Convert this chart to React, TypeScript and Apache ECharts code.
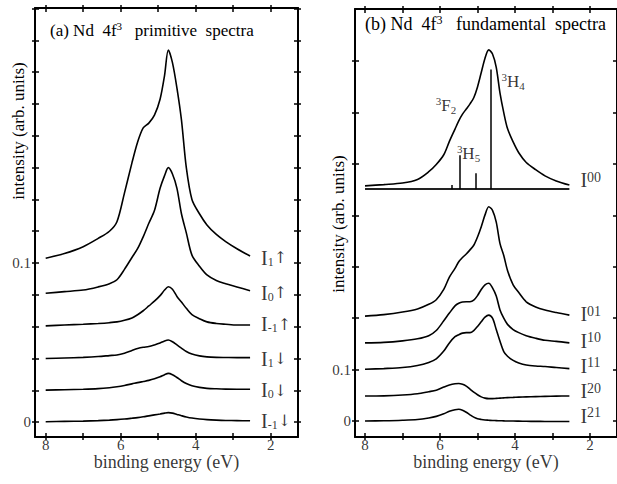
import React, { useEffect, useRef } from 'react';
import * as echarts from 'echarts';

const FONT = 'Liberation Serif, DejaVu Serif, serif';
const ARROWFONT = 'DejaVu Serif, Liberation Serif, serif';

// ---------- Panel (a): primitive spectra ----------
const energyA = [8.0, 7.5, 7.0, 6.6, 6.3, 6.1, 5.9, 5.7, 5.55, 5.4, 5.25, 5.1, 4.95, 4.83, 4.73, 4.62, 4.5, 4.38, 4.25, 4.1, 3.9, 3.7, 3.45, 3.2, 2.9, 2.55];
const aI1Up = [0.103, 0.106, 0.1103, 0.1155, 0.12, 0.126, 0.144, 0.163, 0.176, 0.185, 0.188, 0.193, 0.203, 0.218, 0.234, 0.226, 0.21, 0.19, 0.16, 0.14, 0.131, 0.124, 0.118, 0.1135, 0.109, 0.1044];
const aI0Up = [0.081, 0.082, 0.083, 0.085, 0.087, 0.0895, 0.096, 0.1035, 0.109, 0.1165, 0.125, 0.133, 0.147, 0.155, 0.16, 0.156, 0.147, 0.131, 0.119, 0.105, 0.098, 0.0925, 0.089, 0.087, 0.085, 0.0826];
const aIm1Up = [0.0605, 0.061, 0.0615, 0.062, 0.0625, 0.063, 0.064, 0.0655, 0.0675, 0.07, 0.073, 0.076, 0.0795, 0.083, 0.0851, 0.0835, 0.079, 0.0755, 0.0715, 0.0675, 0.065, 0.063, 0.062, 0.0615, 0.061, 0.061];
const aI1Dn = [0.04, 0.0403, 0.0407, 0.0412, 0.0418, 0.0422, 0.0433, 0.045, 0.0462, 0.047, 0.0475, 0.0485, 0.0497, 0.051, 0.0516, 0.0505, 0.0485, 0.0465, 0.0444, 0.0428, 0.0416, 0.041, 0.0407, 0.0406, 0.0405, 0.0405];
const aI0Dn = [0.0201, 0.0203, 0.0206, 0.021, 0.0216, 0.0222, 0.023, 0.024, 0.0248, 0.0255, 0.0262, 0.0272, 0.0285, 0.0298, 0.0306, 0.0298, 0.028, 0.026, 0.0242, 0.0228, 0.0218, 0.0212, 0.0209, 0.0207, 0.0206, 0.0206];
const aIm1Dn = [0.0002, 0.0004, 0.0006, 0.0009, 0.0012, 0.0015, 0.0019, 0.0024, 0.0028, 0.0033, 0.0039, 0.0045, 0.0051, 0.0056, 0.0059, 0.0056, 0.0048, 0.004, 0.0032, 0.0025, 0.0019, 0.0015, 0.0012, 0.001, 0.0009, 0.0008];
const labelsA = ['{b|I}{s|1}{a|\u2191}', '{b|I}{s|0}{a|\u2191}', '{b|I}{s|-1}{a|\u2191}', '{b|I}{s|1}{a|\u2193}', '{b|I}{s|0}{a|\u2193}', '{b|I}{s|-1}{a|\u2193}'];
const labelOffsetA = [1.5, 2, -1, 1, 1, 0];

// ---------- Panel (b): fundamental spectra ----------
const energyB = [8.0, 7.5, 7.0, 6.6, 6.3, 6.1, 5.9, 5.75, 5.6, 5.5, 5.4, 5.3, 5.2, 5.1, 5.0, 4.9, 4.8, 4.7, 4.6, 4.5, 4.4, 4.3, 4.2, 4.05, 3.9, 3.7, 3.45, 3.2, 2.9, 2.55];
const bI00 = [0.4575, 0.46, 0.463, 0.47, 0.485, 0.499, 0.518, 0.544, 0.568, 0.584, 0.597, 0.607, 0.617, 0.629, 0.65, 0.678, 0.706, 0.722, 0.714, 0.688, 0.638, 0.6, 0.569, 0.543, 0.522, 0.503, 0.489, 0.477, 0.467, 0.459];
const bI01 = [0.204, 0.207, 0.212, 0.218, 0.227, 0.236, 0.256, 0.28, 0.297, 0.31, 0.318, 0.325, 0.333, 0.342, 0.358, 0.378, 0.401, 0.417, 0.41, 0.387, 0.345, 0.322, 0.293, 0.265, 0.25, 0.232, 0.222, 0.216, 0.211, 0.206];
const bI10 = [0.152, 0.153, 0.156, 0.16, 0.166, 0.176, 0.195, 0.21, 0.224, 0.229, 0.2315, 0.232, 0.232, 0.235, 0.244, 0.256, 0.265, 0.268, 0.259, 0.243, 0.216, 0.2, 0.188, 0.178, 0.172, 0.166, 0.161, 0.157, 0.155, 0.152];
const bI11 = [0.1006, 0.102, 0.104, 0.108, 0.114, 0.121, 0.136, 0.152, 0.164, 0.168, 0.171, 0.172, 0.172, 0.176, 0.184, 0.193, 0.202, 0.206, 0.2, 0.178, 0.155, 0.135, 0.126, 0.118, 0.113, 0.109, 0.107, 0.106, 0.104, 0.102];
const bI20 = [0.0486, 0.049, 0.0505, 0.053, 0.057, 0.06, 0.066, 0.07, 0.0725, 0.073, 0.0715, 0.068, 0.062, 0.056, 0.051, 0.047, 0.0445, 0.0435, 0.0435, 0.044, 0.0445, 0.045, 0.0455, 0.046, 0.0465, 0.047, 0.0475, 0.048, 0.0485, 0.0486];
const bI21 = [0.0, 0.0005, 0.0015, 0.003, 0.006, 0.009, 0.014, 0.019, 0.022, 0.0228, 0.021, 0.017, 0.012, 0.0075, 0.0045, 0.003, 0.002, 0.0015, 0.001, 0.0008, 0.0005, 0.0003, 0.0, 0.0, -0.0002, -0.0005, -0.0007, -0.0008, -0.001, -0.001];
const labelsB = ['{b|I}{p|00}', '{b|I}{p|01}', '{b|I}{p|10}', '{b|I}{p|11}', '{b|I}{p|20}', '{b|I}{p|21}'];
const labelOffsetB = [-5, -1, -2, -3, -5, -6];

// stick spectrum under I00
const stickE = [5.69, 5.47, 5.05, 4.66];
const stickTop = [0.459, 0.517, 0.482, 0.684];
const stickBase = 0.451;
const stickBaseFrom = 8.0;
const stickBaseTo = 2.55;
const termE = [5.84, 5.24, 4.05];
const termV = [0.613, 0.521, 0.6605];
const termText = ['{p|3}{b|F}{s|2}', '{p|3}{b|H}{s|5}', '{p|3}{b|H}{s|4}'];

// ticks
const xTicks = [2, 3, 4, 5, 6, 7, 8];
const xLabels = [2, 4, 6, 8];
const yTicksA = [0, 0.02, 0.04, 0.06, 0.08, 0.1, 0.12, 0.14, 0.16, 0.18, 0.2, 0.22, 0.24, 0.26];
const yLabelsA = [0, 0.1];
const yTicksB = [0, 0.1, 0.2, 0.3, 0.4, 0.5, 0.6, 0.7];
const yLabelsB = [0, 0.1];
const xTitle = 'binding energy (eV)';

// axis ranges [min, max]
const xRangeA = [1.272, 8.285];
const yRangeA = [-0.0094, 0.2604];
const xRangeB = [1.28, 8.267];
const yRangeB = [-0.0311, 0.8016];

function frameAxes(gridIndex: number, kind: 'x' | 'y', min: number, max: number, inverse: boolean, ticks: number[]) {
  const positions = kind === 'x' ? ['bottom', 'top'] : ['left', 'right'];
  const out: any[] = [];
  positions.forEach((pos) => {
    [true, false].forEach((inside) => {
      out.push({
        gridIndex,
        type: 'value',
        position: pos,
        min,
        max,
        inverse,
        axisLine: { show: inside, onZero: false, lineStyle: { color: '#000', width: 2 } },
        axisTick: { show: true, inside, length: inside ? 4 : 3, customValues: ticks, lineStyle: { color: '#000', width: 1.5 } },
        axisLabel: { show: false },
        splitLine: { show: false },
      });
    });
  });
  return out;
}

const tickRich = { t: { fontFamily: FONT, fontSize: 15, lineHeight: 14, color: '#000' } };
const nameRich = { t: { fontFamily: FONT, fontSize: 18, lineHeight: 20, color: '#000' } };

// tick labels and axis title drawn as labels anchored at axis values
function axisTexts(axisIndex: number, xr: number[], yr: number[], yLabels: number[]) {
  const xs = xLabels.map((v) => ({ value: [v, yr[0]], name: '{t|' + v + '}', label: { position: 'bottom', distance: 1, rich: tickRich } }));
  const ys = yLabels.map((v) => ({ value: [xr[1], v], name: '{t|' + v + '}', label: { position: 'left', distance: 4, rich: tickRich } }));
  const title = { value: [(xr[0] + xr[1]) / 2, yr[0]], name: '{t|' + xTitle + '}', label: { position: 'bottom', distance: 15, rich: nameRich } };
  return {
    type: 'scatter',
    xAxisIndex: axisIndex,
    yAxisIndex: axisIndex,
    symbolSize: 0,
    silent: true,
    clip: false,
    data: [...xs, ...ys, title],
    label: { show: true, formatter: (p: any) => p.name },
  };
}

const richA = {
  b: { fontFamily: FONT, fontSize: 20, lineHeight: 20, color: '#000', verticalAlign: 'middle' },
  a: { fontFamily: ARROWFONT, fontSize: 16, lineHeight: 20, color: '#000', verticalAlign: 'middle' },
  s: { fontFamily: FONT, fontSize: 12, lineHeight: 12, color: '#000', verticalAlign: 'bottom' },
};
const richB = {
  b: { fontFamily: FONT, fontSize: 20, lineHeight: 20, color: '#000', verticalAlign: 'middle' },
  p: { fontFamily: FONT, fontSize: 14, lineHeight: 14, color: '#000', verticalAlign: 'top' },
};
const richTerm = {
  b: { fontFamily: FONT, fontSize: 17, lineHeight: 20, color: '#000', verticalAlign: 'middle' },
  p: { fontFamily: FONT, fontSize: 11, lineHeight: 11, color: '#000', verticalAlign: 'top' },
  s: { fontFamily: FONT, fontSize: 11, lineHeight: 11, color: '#000', verticalAlign: 'bottom' },
};

function curve(xs: number[], ys: number[], axisIndex: number) {
  return {
    type: 'line',
    xAxisIndex: axisIndex,
    yAxisIndex: axisIndex,
    data: xs.map((x, i) => [x, ys[i]]),
    showSymbol: false,
    symbol: 'none',
    smooth: 0.3,
    lineStyle: { color: '#000', width: 1.6 },
    silent: true,
  };
}

function endLabels(xs: number[], all: number[][], names: string[], offsets: number[], axisIndex: number, rich: any, distance: number) {
  return {
    type: 'scatter',
    xAxisIndex: axisIndex,
    yAxisIndex: axisIndex,
    symbolSize: 0,
    silent: true,
    data: all.map((ys, i) => ({
      value: [xs[xs.length - 1], ys[ys.length - 1]],
      name: names[i],
      label: { offset: [0, offsets[i]] },
    })),
    label: { show: true, position: 'right', distance, formatter: (p: any) => p.name, rich },
  };
}

function buildOption() {
  const seriesA = [aI1Up, aI0Up, aIm1Up, aI1Dn, aI0Dn, aIm1Dn];
  const seriesB = [bI00, bI01, bI10, bI11, bI20, bI21];
  const xA = frameAxes(0, 'x', xRangeA[0], xRangeA[1], true, xTicks);
  const yA = frameAxes(0, 'y', yRangeA[0], yRangeA[1], false, yTicksA);
  const xB = frameAxes(1, 'x', xRangeB[0], xRangeB[1], true, xTicks);
  const yB = frameAxes(1, 'y', yRangeB[0], yRangeB[1], false, yTicksB);

  const series: any[] = [];
  seriesA.forEach((ys) => series.push(curve(energyA, ys, 0)));
  seriesB.forEach((ys) => series.push(curve(energyB, ys, 4)));
  series.push(endLabels(energyA, seriesA, labelsA, labelOffsetA, 0, richA, 11));
  series.push(endLabels(energyB, seriesB, labelsB, labelOffsetB, 4, richB, 11));
  series.push(axisTexts(0, xRangeA, yRangeA, yLabelsA));
  series.push(axisTexts(4, xRangeB, yRangeB, yLabelsB));

  series.push({
    type: 'line',
    xAxisIndex: 4,
    yAxisIndex: 4,
    data: [],
    silent: true,
    markLine: {
      silent: true,
      symbol: ['none', 'none'],
      label: { show: false },
      animation: false,
      data: [
        [
          { coord: [stickBaseFrom, stickBase], lineStyle: { color: '#222', width: 2, type: 'solid' } },
          { coord: [stickBaseTo, stickBase] },
        ],
        ...stickE.map((e, i) => [
          { coord: [e, stickBase], lineStyle: { color: '#000', width: 1.5, type: 'solid' } },
          { coord: [e, stickTop[i]] },
        ]),
      ],
    },
  });
  series.push({
    type: 'scatter',
    xAxisIndex: 4,
    yAxisIndex: 4,
    symbolSize: 0,
    silent: true,
    data: termE.map((e, i) => ({ value: [e, termV[i]], name: termText[i] })),
    label: { show: true, position: 'inside', formatter: (p: any) => p.name, rich: richTerm },
  });

  const titleRichA = {
    n: { fontFamily: FONT, fontSize: 17, lineHeight: 20, fill: '#000', verticalAlign: 'middle' },
    u: { fontFamily: FONT, fontSize: 11, lineHeight: 11, fill: '#000', verticalAlign: 'top' },
  };
  const titleRichB = {
    n: { fontFamily: FONT, fontSize: 18, lineHeight: 20, fill: '#000', verticalAlign: 'middle' },
    u: { fontFamily: FONT, fontSize: 12, lineHeight: 11, fill: '#000', verticalAlign: 'top' },
  };

  return {
    animation: false,
    backgroundColor: '#fff',
    textStyle: { fontFamily: FONT },
    grid: [
      { left: 35, top: 8, width: 263, height: 429, outerBoundsMode: 'none', containLabel: false },
      { left: 355, top: 9, width: 262, height: 428, outerBoundsMode: 'none', containLabel: false },
    ],
    xAxis: [...xA, ...xB],
    yAxis: [...yA, ...yB],
    series,
    graphic: [
      {
        type: 'text', x: 50, y: 30, silent: true,
        style: { text: '{n|(a) Nd  4f}{u|3}{n|   primitive  spectra}', rich: titleRichA, verticalAlign: 'middle', fill: '#000', fontFamily: FONT, fontSize: 17 },
      },
      {
        type: 'text', x: 365, y: 24, silent: true,
        style: { text: '{n|(b) Nd  4f}{u|3}{n|   fundamental  spectra}', rich: titleRichB, verticalAlign: 'middle', fill: '#000', fontFamily: FONT, fontSize: 18 },
      },
      {
        type: 'text', x: 18, y: 131, rotation: Math.PI / 2, silent: true,
        style: { text: 'intensity (arb. units)', fontFamily: FONT, fontSize: 17, align: 'center', verticalAlign: 'middle', fill: '#000' },
      },
      {
        type: 'text', x: 338, y: 224, rotation: Math.PI / 2, silent: true,
        style: { text: 'intensity (arb. units)', fontFamily: FONT, fontSize: 17, align: 'center', verticalAlign: 'middle', fill: '#000' },
      },
    ],
  };
}

export default function App() {
  const ref = useRef<HTMLDivElement>(null);
  useEffect(() => {
    const chart = echarts.init(ref.current!, undefined, { renderer: 'svg' });
    chart.setOption(buildOption() as any);
    return () => chart.dispose();
  }, []);
  return <div ref={ref} style={{ position: 'absolute', left: 0, top: 0, width: 617, height: 484, background: '#fff' }} />;
}
